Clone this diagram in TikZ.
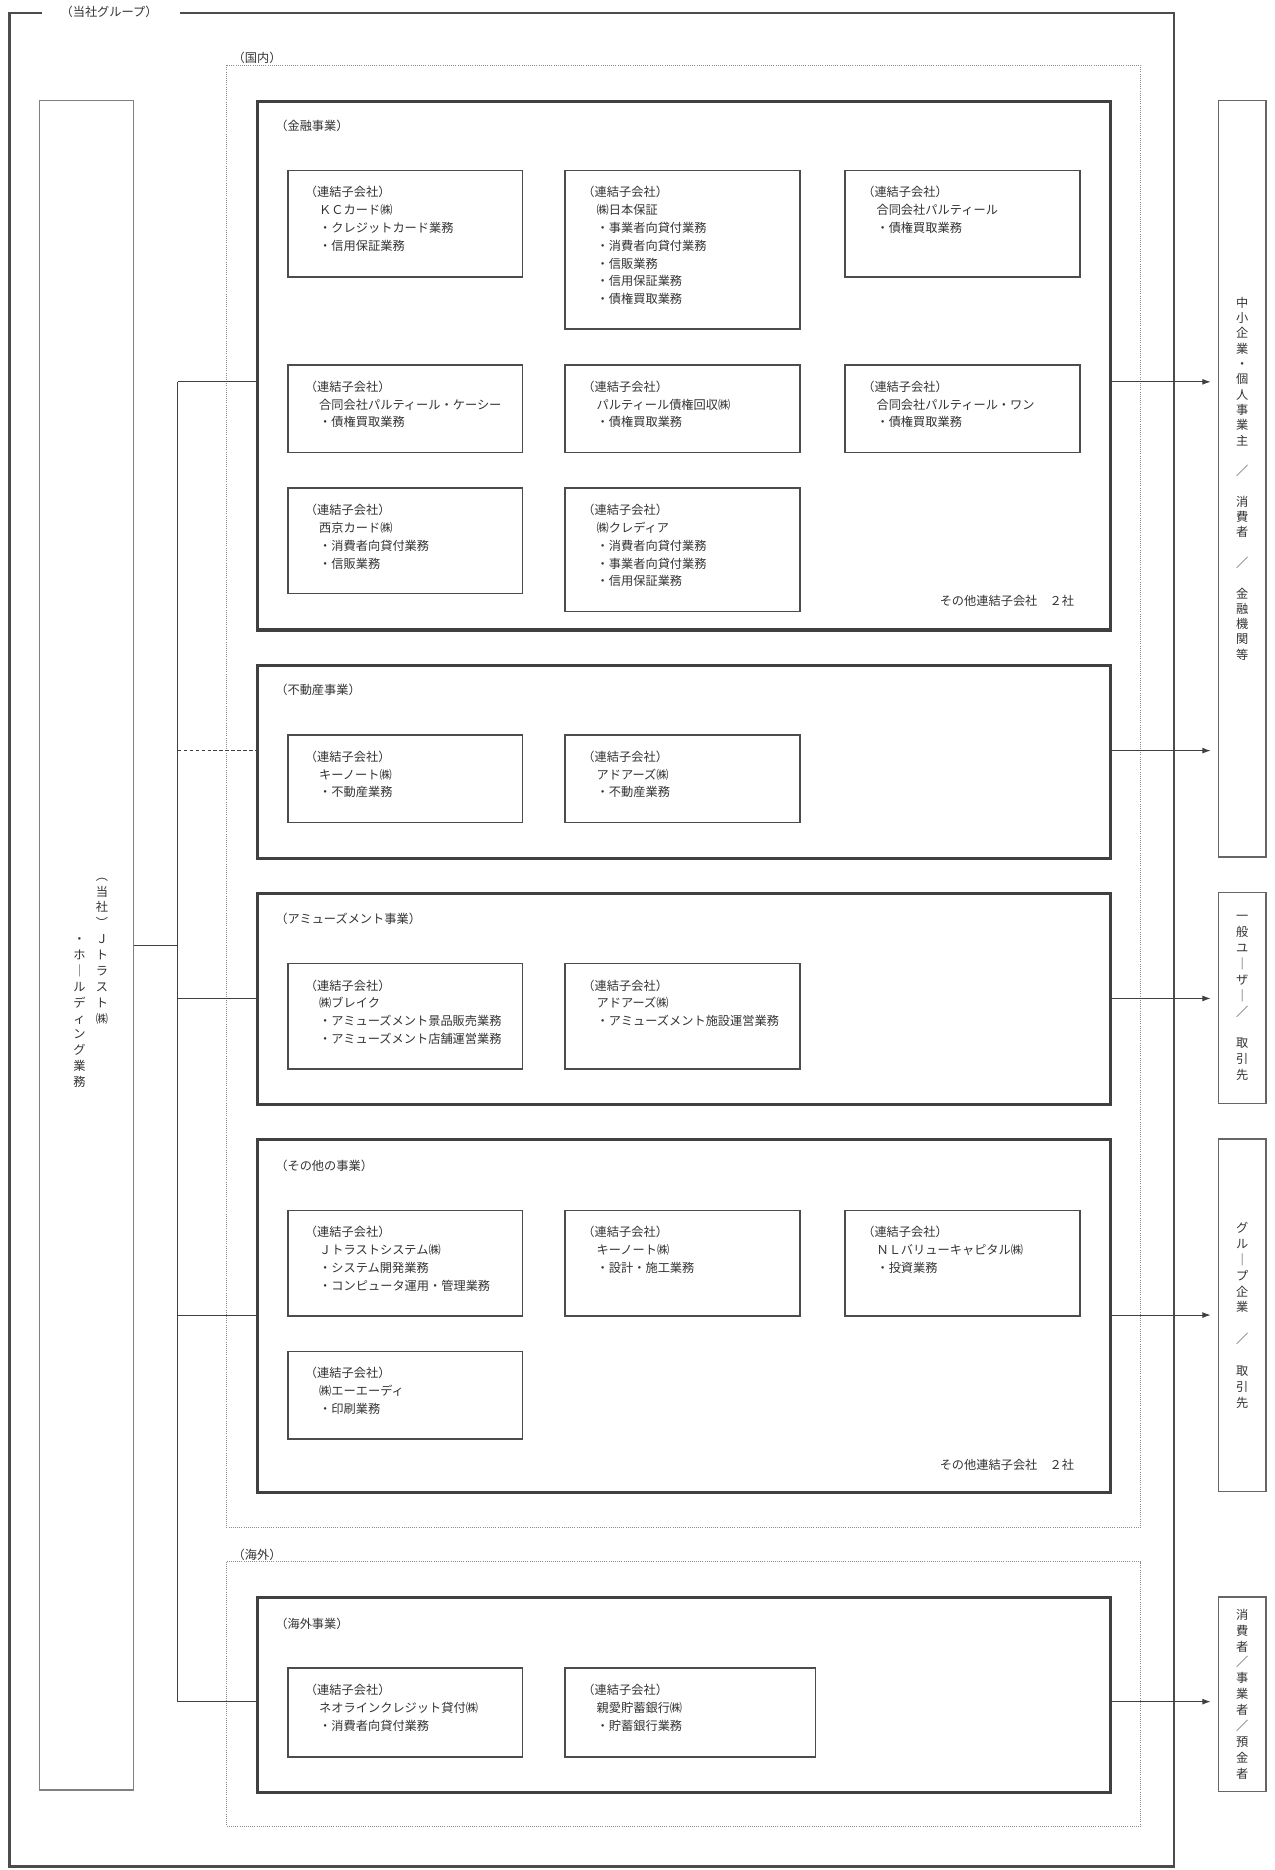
\documentclass[tikz,border=0pt]{standalone}
\usepackage{fontspec}
\newfontfamily\jp{Noto Sans CJK JP}
\usetikzlibrary{positioning,arrows.meta}

\begin{document}
\begin{tikzpicture}[x=1pt,y=-1pt,
    every node/.style={font=\jp\fontsize{10.3}{15}\selectfont, text=black!80, inner sep=0pt},
    grpline/.style={draw=black!70, line width=2.2pt},
    areabox/.style={draw=black!45, line width=0.8pt, densely dotted},
    bizbox/.style={draw=black!75, line width=2.6pt, anchor=north west, minimum width=719pt},
    cobox/.style={draw=black!70, line width=1.3pt, anchor=north west, minimum width=198pt},
    cotext/.style={align=left, anchor=north west},
    sidebox/.style={draw=black!60, line width=1.3pt, anchor=north west, minimum width=40pt},
    tate/.style={align=center, font=\jp\fontsize{10.3}{13.4}\selectfont},
    link/.style={draw=black!75, line width=0.9pt},
    toarrow/.style={link, -{Latex[length=7pt,width=5pt]}, shorten >=6pt}
    ]
    \useasboundingbox (0,0) rectangle (1075,1577);

    % group frame and areas
    \node (grp) at (92,10) {（当社グループ）};
    \draw[grpline] (35,11) -- (8,11) -- (8,1574) -- (990,1574) -- (990,11) -- (152,11);
    \draw[areabox] (191,55) rectangle (962,1288);
    \node[anchor=south west] (dom) at (196,54) {（国内）};
    \draw[areabox] (191,1317) rectangle (962,1540);
    \node[anchor=south west] (ovs) at (196,1316) {（海外）};

    % holding company
    \node[draw=black!50, line width=1pt, anchor=north west, minimum width=79pt, minimum height=1425pt] (hd) at (33,84) {};
    \node[tate] (hd1) at (86,802) {︵\\当\\社\\︶\\Ｊ\\ト\\ラ\\ス\\ト\\㈱};
    \node[tate] (hd2) at (67,854) {・\\ホ\\｜\\ル\\デ\\ィ\\ン\\グ\\業\\務};

    % business segments
    \node[bizbox, minimum height=446pt] (fin) at (216,84) {};
    \node[anchor=west] (finl) at (232,106) {（金融事業）};
    \node[bizbox, minimum height=163pt] (estate) at (216,560) {};
    \node[anchor=west] (estatel) at (232,582) {（不動産事業）};
    \node[bizbox, minimum height=178pt] (amuse) at (216,752) {};
    \node[anchor=west] (amusel) at (232,775) {（アミューズメント事業）};
    \node[bizbox, minimum height=297pt] (other) at (216,960) {};
    \node[anchor=west] (otherl) at (232,983) {（その他の事業）};
    \node[bizbox, minimum height=164pt] (abroad) at (216,1346) {};
    \node[anchor=west] (abroadl) at (232,1369) {（海外事業）};

    % finance
    \node[cobox, minimum height=90pt] (kc) at (242,143) {};
    \node[cotext, below right=14pt and 27pt of kc.north west] (kct) {\hspace*{-12pt}（連結子会社）\\ＫＣカード㈱\\・クレジットカード業務\\・信用保証業務};
    \node[cobox, minimum height=134pt] (nih) at (476,143) {};
    \node[cotext, below right=14pt and 27pt of nih.north west] (niht) {\hspace*{-12pt}（連結子会社）\\㈱日本保証\\・事業者向貸付業務\\・消費者向貸付業務\\・信販業務\\・信用保証業務\\・債権買取業務};
    \node[cobox, minimum height=90pt] (pt) at (712,143) {};
    \node[cotext, below right=14pt and 27pt of pt.north west] (ptt) {\hspace*{-12pt}（連結子会社）\\合同会社パルティール\\・債権買取業務};
    \node[cobox, minimum height=74pt] (ptk) at (242,307) {};
    \node[cotext, below right=14pt and 27pt of ptk.north west] (ptkt) {\hspace*{-12pt}（連結子会社）\\合同会社パルティール・ケーシー\\・債権買取業務};
    \node[cobox, minimum height=74pt] (ptr) at (476,307) {};
    \node[cotext, below right=14pt and 27pt of ptr.north west] (ptrt) {\hspace*{-12pt}（連結子会社）\\パルティール債権回収㈱\\・債権買取業務};
    \node[cobox, minimum height=74pt] (pto) at (712,307) {};
    \node[cotext, below right=14pt and 27pt of pto.north west] (ptot) {\hspace*{-12pt}（連結子会社）\\合同会社パルティール・ワン\\・債権買取業務};
    \node[cobox, minimum height=89pt] (sai) at (242,411) {};
    \node[cotext, below right=14pt and 27pt of sai.north west] (sait) {\hspace*{-12pt}（連結子会社）\\西京カード㈱\\・消費者向貸付業務\\・信販業務};
    \node[cobox, minimum height=104pt] (cre) at (476,411) {};
    \node[cotext, below right=14pt and 27pt of cre.north west] (cret) {\hspace*{-12pt}（連結子会社）\\㈱クレディア\\・消費者向貸付業務\\・事業者向貸付業務\\・信用保証業務};
    \node[anchor=east] (fino) at (906,507) {その他連結子会社　２社};

    % real estate
    \node[cobox, minimum height=74pt] (kn1) at (242,619) {};
    \node[cotext, below right=14pt and 27pt of kn1.north west] (kn1t) {\hspace*{-12pt}（連結子会社）\\キーノート㈱\\・不動産業務};
    \node[cobox, minimum height=74pt] (ad1) at (476,619) {};
    \node[cotext, below right=14pt and 27pt of ad1.north west] (ad1t) {\hspace*{-12pt}（連結子会社）\\アドアーズ㈱\\・不動産業務};

    % amusement
    \node[cobox, minimum height=89pt] (brk) at (242,812) {};
    \node[cotext, below right=14pt and 27pt of brk.north west] (brkt) {\hspace*{-12pt}（連結子会社）\\㈱ブレイク\\・アミューズメント景品販売業務\\・アミューズメント店舗運営業務};
    \node[cobox, minimum height=89pt] (ad2) at (476,812) {};
    \node[cotext, below right=14pt and 27pt of ad2.north west] (ad2t) {\hspace*{-12pt}（連結子会社）\\アドアーズ㈱\\・アミューズメント施設運営業務};

    % other
    \node[cobox, minimum height=89pt] (jts) at (242,1020) {};
    \node[cotext, below right=14pt and 27pt of jts.north west] (jtst) {\hspace*{-12pt}（連結子会社）\\Ｊトラストシステム㈱\\・システム開発業務\\・コンピュータ運用・管理業務};
    \node[cobox, minimum height=89pt] (kn2) at (476,1020) {};
    \node[cotext, below right=14pt and 27pt of kn2.north west] (kn2t) {\hspace*{-12pt}（連結子会社）\\キーノート㈱\\・設計・施工業務};
    \node[cobox, minimum height=89pt] (nlv) at (712,1020) {};
    \node[cotext, below right=14pt and 27pt of nlv.north west] (nlvt) {\hspace*{-12pt}（連結子会社）\\ＮＬバリューキャピタル㈱\\・投資業務};
    \node[cobox, minimum height=74pt] (aad) at (242,1139) {};
    \node[cotext, below right=14pt and 27pt of aad.north west] (aadt) {\hspace*{-12pt}（連結子会社）\\㈱エーエーディ\\・印刷業務};
    \node[anchor=east] (otho) at (906,1235) {その他連結子会社　２社};

    % overseas
    \node[cobox, minimum height=75pt] (neo) at (242,1406) {};
    \node[cotext, below right=14pt and 27pt of neo.north west] (neot) {\hspace*{-12pt}（連結子会社）\\ネオラインクレジット貸付㈱\\・消費者向貸付業務};
    \node[cobox, minimum height=75pt, minimum width=211pt] (sbk) at (476,1406) {};
    \node[cotext, below right=14pt and 27pt of sbk.north west] (sbkt) {\hspace*{-12pt}（連結子会社）\\親愛貯蓄銀行㈱\\・貯蓄銀行業務};

    % customers
    \node[sidebox, minimum height=638pt] (cust1) at (1027,84) {};
    \node[tate, font=\jp\fontsize{10.3}{12.9}\selectfont] (c1t) at (cust1) {中\\小\\企\\業\\・\\個\\人\\事\\業\\主\\　\\／\\　\\消\\費\\者\\　\\／\\　\\金\\融\\機\\関\\等};
    \node[sidebox, minimum height=178pt] (cust2) at (1027,752) {};
    \node[tate] (c2t) at (cust2) {一\\般\\ユ\\｜\\ザ\\｜\\／\\　\\取\\引\\先};
    \node[sidebox, minimum height=297pt] (cust3) at (1027,960) {};
    \node[tate] (c3t) at (cust3) {グ\\ル\\｜\\プ\\企\\業\\　\\／\\　\\取\\引\\先};
    \node[sidebox, minimum height=164pt] (cust4) at (1027,1346) {};
    \node[tate] (c4t) at (cust4) {消\\費\\者\\／\\事\\業\\者\\／\\預\\金\\者};

    % the links
    \coordinate (j1) at (150,322);
    \coordinate (j2) at (150,633);
    \coordinate (j3) at (150,842);
    \coordinate (j4) at (150,1109);
    \coordinate (j5) at (150,1435);
    \draw[link] (hd.east) -- (hd.east -| j1);
    \draw[link] (j1) -- (j5);
    \draw[link] (j1) -- (j1 -| fin.west);
    \draw[link, dash pattern=on 3pt off 2pt] (j2) -- (j2 -| estate.west);
    \draw[link] (j3) -- (j3 -| amuse.west);
    \draw[link] (j4) -- (j4 -| other.west);
    \draw[link] (j5) -- (j5 -| abroad.west);

    % the arrows
    \draw[toarrow] (j1 -| fin.east) -- (j1 -| cust1.west);
    \draw[toarrow] (j2 -| estate.east) -- (j2 -| cust1.west);
    \draw[toarrow] (j3 -| amuse.east) -- (j3 -| cust2.west);
    \draw[toarrow] (j4 -| other.east) -- (j4 -| cust3.west);
    \draw[toarrow] (j5 -| abroad.east) -- (j5 -| cust4.west);
\end{tikzpicture}
\end{document}
